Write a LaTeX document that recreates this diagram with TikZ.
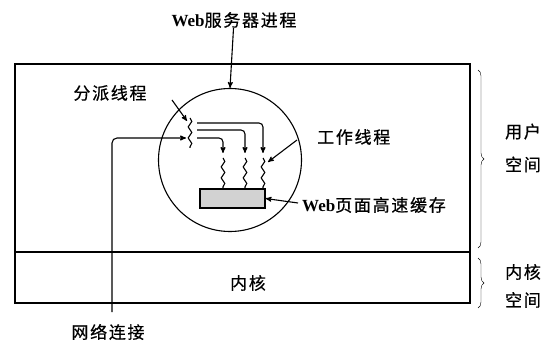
\documentclass[tikz,border=0pt]{standalone}
\usepackage{fontspec}
\setmainfont{Liberation Serif}
\newfontfamily\cjk[LetterSpace=10,FakeBold=0.6]{Noto Sans CJK SC}
\usetikzlibrary{arrows}
\usetikzlibrary{positioning}
\usetikzlibrary{decorations.pathmorphing}
\usetikzlibrary{decorations.pathreplacing}
\tikzset{
    lbl/.style={ % Sets the properties for each text label
    font=\cjk\fontsize{17}{20}\selectfont,
    inner sep=0pt},
    ptr/.style={ % Arrows with filled heads
    ->,>=stealth',
    line width=1.1pt},
    wavy/.style={ % Running threads
    line width=1.1pt,
    decorate,
    decoration={snake,segment length=11pt,amplitude=1.8pt}},
    curly/.style={ % Braces on the right
    decorate,
    decoration={brace,amplitude=6pt}}}

\begin{document}
\begin{tikzpicture}[x=1pt,y=-1pt]
        \useasboundingbox (0,0) rectangle (556,344);

        % User space and kernel
        \draw[line width=1.1pt] (15,64) rectangle (470,303);
        \draw[line width=1.1pt] (15,252) -- (470,252);
        \node[lbl] (kernel) at (248,283) {内核};

        % Web server process
        \node[draw, line width=1.1pt, circle, minimum size=143pt, inner sep=0pt] (proc) at (230,160) {};
        \node[lbl] (proclbl) at (234,20) {{\rmfamily\bfseries Web}服务器进程};
        \draw[ptr] (proclbl) -- (proc.north);

        % Dispatcher thread
        \coordinate (disptop) at (190,118);
        \coordinate (dispbot) at (190,148);
        \draw[wavy] (disptop) -- (dispbot);
        \node[lbl] (displbl) at (110,93) {分派线程};
        \coordinate (disptail) at (172,100);
        \coordinate (disphead) at (187,121);
        \draw[ptr] (disptail) -- (disphead);

        % Network connection
        \coordinate (netbot) at (112,312);
        \coordinate (netin) at (186,138);
        \draw[ptr, rounded corners=5pt] (netbot) |- (netin);
        \node[lbl] (netlbl) at (108,332) {网络连接};

        % Web page cache
        \node[draw, line width=1.1pt, fill=gray!35, minimum width=65pt, minimum height=19pt, inner sep=0pt] (cache) at (232.5,198.5) {};
        \node[lbl, anchor=west] (cachelbl) at (302,205) {{\rmfamily\bfseries Web}页面高速缓存};
        \coordinate (cachetail) at (298,203);
        \draw[ptr] (cachetail) -- (cache.east);

        % Worker threads
        \foreach \x/\y in {263/123, 245/130, 223/138} {
                \draw[ptr, rounded corners=4pt] (197,\y) -| (\x,153);
                \draw[wavy] (\x,158) -- (\x,189);
            }
        \node[lbl, anchor=west] (worklbl) at (317,137) {工作线程};
        \coordinate (worktail) at (297,140);
        \coordinate (workhead) at (268,162);
        \draw[ptr] (worktail) -- (workhead);

        % Address spaces
        \draw[curly] (478,70) -- (478,248);
        \draw[curly] (478,258) -- (478,308);
        \node[lbl, align=center, font=\cjk\fontsize{17}{33}\selectfont] (userlbl) at (523,148) {用户\\空间};
        \node[lbl, align=center, font=\cjk\fontsize{17}{28}\selectfont] (kernlbl) at (523,286) {内核\\空间};

    \end{tikzpicture}
\end{document}
